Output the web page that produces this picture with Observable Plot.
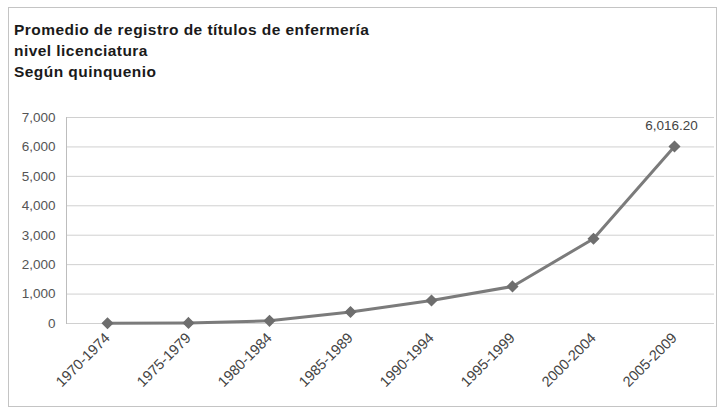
<!DOCTYPE html>
<html>
<head>
<meta charset="utf-8">
<script src="https://cdn.jsdelivr.net/npm/d3@7"></script>
<script src="https://cdn.jsdelivr.net/npm/@observablehq/plot@0.6"></script>
<style>
  html, body { margin: 0; padding: 0; background: #fff; width: 722px; height: 410px; overflow: hidden; }
  #box { position: absolute; left: 8px; top: 7px; width: 709px; height: 400px; border: 1px solid #c4c4c4; box-sizing: border-box; }
  #title { position: absolute; left: 14px; top: 19px; font-family: "Liberation Sans", Arial, sans-serif; font-weight: bold; font-size: 15.5px; letter-spacing: 0.45px; line-height: 21px; color: #1a1a1a; }
  #chart { position: absolute; left: 0; top: 95px; }
</style>
</head>
<body>
<div id="box"></div>
<div id="title">Promedio de registro de títulos de enfermería<br>nivel licenciatura<br>Según quinquenio</div>
<div id="chart"></div>
<script>
const periods = ["1970-1974", "1975-1979", "1980-1984", "1985-1989", "1990-1994", "1995-1999", "2000-2004", "2005-2009"];
const values = [10, 20, 90, 390, 780, 1260, 2880, 6016.2];
const yTicks = [0, 1000, 2000, 3000, 4000, 5000, 6000, 7000];
const labelText = ["", "", "", "", "", "", "", "6,016.20"];

const data = periods.map((p, i) => ({period: p, value: values[i], label: labelText[i]}));
const fmt = d3.format(",");

const chart = Plot.plot({
  width: 722,
  height: 315,
  marginLeft: 66,
  marginRight: 8,
  marginTop: 22,
  marginBottom: 87,
  style: {fontFamily: "'Liberation Sans', Arial, sans-serif", background: "transparent"},
  x: {type: "point", domain: periods, padding: 0.5, label: null},
  y: {domain: [0, 7000], ticks: yTicks, label: null},
  marks: [
    Plot.gridY(yTicks, {stroke: "#d0d0d0", strokeOpacity: 1, strokeWidth: 1}),
    Plot.frame({anchor: "left", stroke: "#bdbdbd"}),
    Plot.axisY(yTicks, {tickSize: 0, tickPadding: 11, tickFormat: fmt, fontSize: 13.5, fill: "#555", label: null}),
    Plot.axisX({tickSize: 0, tickRotate: -45, tickPadding: 12, fontSize: 14.5, fill: "#444", label: null}),
    Plot.line(data, {x: "period", y: "value", stroke: "#7b7b7b", strokeWidth: 3}),
    Plot.dot(data, {x: "period", y: "value", symbol: "diamond2", fill: "#6e6e6e", stroke: "#6e6e6e", r: 4.5}),
    Plot.text(data, {x: "period", y: "value", text: "label", dx: -3, dy: -21, fontSize: 13.5, fill: "#444"})
  ]
});
document.getElementById("chart").appendChild(chart);
</script>
</body>
</html>
